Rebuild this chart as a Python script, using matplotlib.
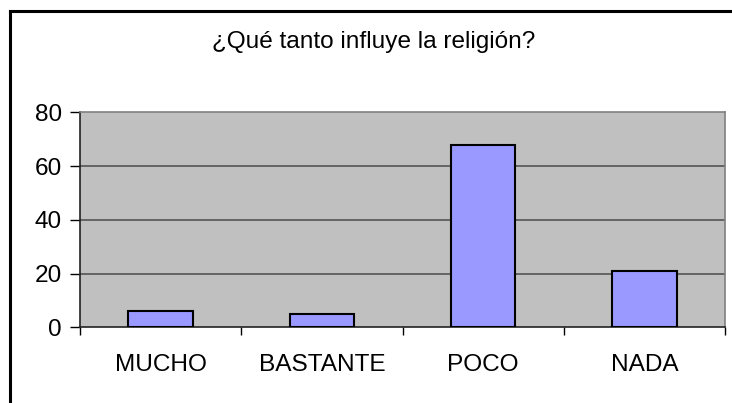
import matplotlib
matplotlib.use("Agg")
import matplotlib.pyplot as plt
from matplotlib.lines import Line2D

categories = ["MUCHO", "BASTANTE", "POCO", "NADA"]
values = [6, 5, 68, 21]
yticks = [0, 20, 40, 60, 80]
title = "¿Qué tanto influye la religión?"

plt.rcParams['font.family'] = ['Liberation Sans', 'DejaVu Sans']

W, H = 732, 403
FS = 17.6
fig = plt.figure(figsize=(W / 100, H / 100), dpi=100)
ax = fig.add_axes([80 / W, 1 - 327.3 / H, 645 / W, 215 / H])
ax.set_facecolor('#C0C0C0')

x = range(len(categories))
ax.bar(x, values, width=0.4, color='#9999FF', edgecolor='black', linewidth=1.5, zorder=3)

ax.set_xlim(-0.5, len(categories) - 0.5)
ax.set_ylim(0, 80)
ax.set_yticks(yticks)
ax.set_yticklabels([str(t) for t in yticks], fontsize=FS)
ax.set_xticks([i - 0.5 for i in range(len(categories) + 1)], minor=False)
ax.set_xticklabels([])
ax.set_xticks(list(x), minor=True)
ax.set_xticklabels(categories, minor=True, fontsize=FS)
ax.tick_params(axis='x', which='minor', length=0, pad=19)
ax.tick_params(axis='x', which='major', length=6, width=1, color='black')
ax.tick_params(axis='y', length=7, width=1, color='black', pad=6)

for y in yticks[1:4]:
    ax.axhline(y, color='#555555', linewidth=1.2, zorder=1)

for s in ['top', 'right']:
    ax.spines[s].set_color('#808080')
    ax.spines[s].set_linewidth(1.2)
for s in ['left', 'bottom']:
    ax.spines[s].set_color('#222222')
    ax.spines[s].set_linewidth(1.2)

fig.text(374 / W, 1 - 42 / H, title, ha='center', va='center', fontsize=FS)

fig.add_artist(Line2D([10 / W, 10 / W], [0, 1 - 11 / H], color='black', linewidth=2.2, transform=fig.transFigure))
fig.add_artist(Line2D([10 / W, 1], [1 - 11 / H, 1 - 11 / H], color='black', linewidth=2.2, transform=fig.transFigure))

fig.savefig('out.png', dpi=100)
